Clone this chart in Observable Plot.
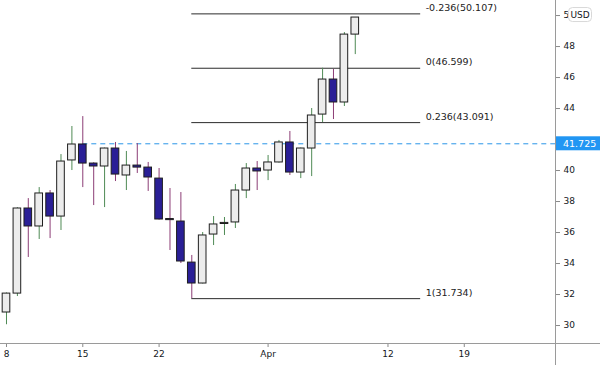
<!DOCTYPE html>
<html>
<head>
<meta charset="utf-8">
<script src="https://cdn.jsdelivr.net/npm/d3@7"></script>
<script src="https://cdn.jsdelivr.net/npm/@observablehq/plot@0.6"></script>
<style>
  html, body { margin: 0; padding: 0; background: #ffffff; }
  #chart { width: 600px; height: 365px; }
</style>
</head>
<body>
<div id="chart"></div>
<script>
// ---- data (daily candles, index 0 = Mar 8) ----
const opens  = [30.84,32.06,37.55,36.39,38.52,37.03,40.65,41.68,40.45,40.26,41.42,39.68,40.32,40.19,39.48,36.87,36.71,34.06,32.71,35.87,36.55,36.65,38.71,40.13,40.00,40.52,41.81,39.87,41.42,43.61,45.87,44.39,48.77];
const highs  = [32.10,37.60,38.19,38.90,38.71,41.03,42.84,43.48,40.50,41.45,41.81,41.23,41.74,40.52,40.13,38.84,38.58,34.52,36.00,37.03,36.97,39.10,40.45,40.58,40.97,41.94,42.52,41.45,44.00,46.599,46.52,48.90,49.87];
const lows   = [30.05,31.87,34.39,35.55,35.61,36.13,40.00,38.90,37.74,37.61,39.29,38.71,39.81,38.65,36.80,34.84,34.00,31.734,32.68,35.16,35.81,36.26,38.19,38.71,39.35,40.48,39.68,39.48,39.61,43.10,43.29,44.13,47.48];
const closes = [32.06,37.55,36.39,38.52,37.03,40.58,41.68,40.45,40.26,41.42,39.74,40.32,40.19,39.55,36.84,36.80,34.13,32.71,35.81,36.52,36.62,38.71,40.13,39.94,40.52,41.81,39.87,41.42,43.55,45.87,44.39,48.77,49.87];

// x-axis tick positions (bar index) and labels
const xTickIdx    = [0, 7, 14, 24, 35, 42];
const xTickLabels = ["8", "15", "22", "Apr", "12", "19"];
// y-axis ticks (42 sits under the price label and is not printed)
const yTicks = [30, 32, 34, 36, 38, 40, 42, 44, 46, 48, 50];
const yHiddenLabel = 42;

// Fibonacci retracement levels
const fibLevels = [-0.236, 0, 0.236, 1];
const fibValues = [50.107, 46.599, 43.091, 31.734];
const fibStartIdx = 17;
const fibEndIdx = 38;

// horizontal price line
const priceLine = 41.725;
const priceLineStartIdx = 7;
const currency = "USD";

// ---- build tables ----
const candles = opens.map((o, i) => ({
  i, open: o, high: highs[i], low: lows[i], close: closes[i], up: closes[i] >= o
}));
const fib = fibLevels.map((l, k) => ({
  level: l, value: fibValues[k], label: `${l}(${fibValues[k].toFixed(3)})`
}));
const xLabel = new Map(xTickIdx.map((d, k) => [d, xTickLabels[k]]));

const upFill = "#ececec", downFill = "#2a1f96";
const upWick = "#4f8a55", downWick = "#8c3d76";
const FONT = "DejaVu Sans";

const xDomain = [-0.55, 50.37];
const yDomain = [28.84, 50.97];

const plot = Plot.plot({
  width: 600,
  height: 365,
  marginTop: 0,
  marginRight: 45,
  marginBottom: 22,
  marginLeft: 0,
  x: { domain: xDomain, axis: null },
  y: { domain: yDomain, axis: null },
  style: { fontFamily: FONT, fontSize: "9px", background: "#ffffff", color: "#131722" },
  marks: [
    Plot.axisY(yTicks, {
      anchor: "right", tickSize: 4, tickPadding: 4, stroke: "#8a8a8a",
      fill: "#131722", label: null,
      tickFormat: d => d === yHiddenLabel ? "" : String(d)
    }),
    Plot.axisX(xTickIdx, {
      anchor: "bottom", tickSize: 4, tickPadding: 3, stroke: "#8a8a8a",
      fill: "#131722", label: null, tickFormat: d => xLabel.get(d)
    }),
    Plot.ruleY([priceLine], {
      x1: priceLineStartIdx, x2: xDomain[1],
      stroke: "#2a96e8", strokeWidth: 1, strokeDasharray: "5,4"
    }),
    Plot.ruleY(fib, {
      y: "value", x1: fibStartIdx, x2: fibEndIdx, stroke: "#2b2b2b", strokeWidth: 1
    }),
    Plot.text(fib, {
      x: fibEndIdx, y: "value", text: "label", textAnchor: "start",
      dx: 5, dy: -6, fill: "#222", fontSize: 9.5
    }),
    Plot.ruleX(candles, {
      x: "i", y1: "low", y2: "high",
      stroke: d => d.up ? upWick : downWick, strokeWidth: 1
    }),
    Plot.rect(candles, {
      x1: d => d.i - 0.35, x2: d => d.i + 0.35,
      y1: "open", y2: "close",
      fill: d => d.up ? upFill : downFill,
      stroke: "#1e1e1e", strokeWidth: 1
    })
  ]
});

document.getElementById("chart").appendChild(plot);

// ---- chart chrome: axis border lines, price label, currency badge ----
const svg = d3.select(plot);
const xs = plot.scale("x"), ys = plot.scale("y");
const right = xs.range[1];
const bottom = ys.range[0];

svg.append("line")
  .attr("x1", right + 0.5).attr("x2", right + 0.5)
  .attr("y1", 0).attr("y2", 365)
  .attr("stroke", "#9a9a9a");
svg.append("line")
  .attr("x1", 0).attr("x2", 600)
  .attr("y1", bottom + 0.5).attr("y2", bottom + 0.5)
  .attr("stroke", "#9a9a9a");

const py = ys.apply(priceLine);
svg.append("rect")
  .attr("x", right + 1).attr("y", py - 7)
  .attr("width", 600 - right - 1).attr("height", 14)
  .attr("fill", "#2196f3");
svg.append("text")
  .attr("x", right + 8).attr("y", py)
  .attr("dy", "0.35em")
  .attr("text-anchor", "start")
  .attr("fill", "#ffffff")
  .attr("font-family", FONT).attr("font-size", 9.5)
  .text(priceLine.toFixed(3));

const uy = ys.apply(50);
svg.append("rect")
  .attr("x", right + 13.5).attr("y", uy - 7.5)
  .attr("width", 23).attr("height", 14).attr("rx", 4)
  .attr("fill", "#ffffff").attr("stroke", "#d8d8d8");
svg.append("text")
  .attr("x", right + 25).attr("y", uy)
  .attr("dy", "0.35em").attr("text-anchor", "middle")
  .attr("fill", "#131722")
  .attr("font-family", FONT).attr("font-size", 9)
  .text(currency);
</script>
</body>
</html>
